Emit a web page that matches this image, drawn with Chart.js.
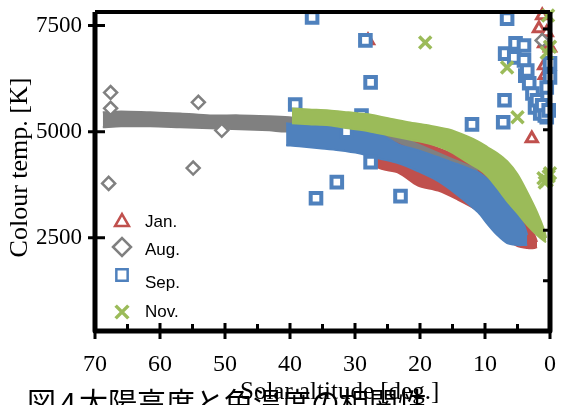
<!DOCTYPE html>
<html>
<head>
<meta charset="utf-8">
<script src="https://cdn.jsdelivr.net/npm/chart.js@4.4.1/dist/chart.umd.min.js"></script>
<style>
body { margin: 0; background: #fff; }
</style>
</head>
<body>
<canvas id="chart" width="562" height="405"></canvas>
<script>
// ---- data: solar altitude [deg] vs colour temperature [K] ----
// dense clouds are kept as upper / lower edge of the band
var janBandAlt  = [34.0, 31.0, 27.9, 26.4, 23.3, 20.3, 17.2, 14.2, 11.1, 9.6, 8.1, 6.6, 5.0, 3.5, 2.4, 2.0];
var janBandHigh = [5124, 5077, 5030, 4983, 4866, 4772, 4607, 4419, 4137, 3925, 3666, 3408, 3078, 2796, 2561, 2396];
var janBandLow  = [4795, 4701, 4442, 4150, 4030, 3730, 3610, 3400, 3140, 2950, 2720, 2460, 2300, 2255, 2255, 2279];

var augBandAlt  = [68.8, 66.0, 61.5, 56.9, 52.3, 47.7, 43.2, 40.1, 38.6, 32.5, 26.4, 20.3, 14.2, 11.1];
var augBandHigh = [5454, 5477, 5454, 5430, 5383, 5383, 5360, 5336, 5313, 5242, 5077, 4701, 4301, 4113];
var augBandLow  = [5101, 5124, 5124, 5101, 5077, 5054, 5030, 5007, 5124, 5077, 4936, 4560, 4184, 3996];

var sepBandAlt  = [40.6, 38.6, 35.5, 32.5, 29.4, 26.4, 23.3, 20.3, 17.2, 14.2, 11.1, 9.6, 8.1, 6.6, 5.0, 4.0, 3.5];
var sepBandHigh = [5195, 5172, 5148, 5101, 5054, 4960, 4701, 4560, 4395, 4231, 4043, 3878, 3690, 3384, 3031, 2796, 2561];
var sepBandLow  = [4678, 4654, 4607, 4560, 4489, 4372, 4254, 4066, 3831, 3502, 3102, 2820, 2561, 2373, 2326, 2326, 2326];

var novBandAlt  = [39.7, 37.1, 34.0, 31.0, 27.9, 24.9, 21.8, 18.8, 15.7, 12.7, 11.1, 9.6, 8.1, 6.6, 5.0, 3.5, 2.0, 0.9, 0.6];
var novBandHigh = [5548, 5524, 5501, 5454, 5407, 5313, 5219, 5148, 5054, 4889, 4772, 4631, 4489, 4301, 3996, 3572, 3102, 2678, 2490];
var novBandLow  = [5195, 5172, 5148, 5077, 5007, 4913, 4819, 4725, 4560, 4278, 4137, 3949, 3666, 3361, 3078, 2796, 2561, 2420, 2396];

// single (scattered) points
var janAlt  = [28.0, 2.8, 1.2, 1.7, 0.5, 0.9, 0.0, 0.9, 0.8];
var janTemp = [7150, 4840, 7735, 7430, 7335, 7080, 6980, 6560, 6330];
var augAlt  = [67.6, 67.6, 54.1, 50.5, 54.9, 67.9, 1.2];
var augTemp = [5920, 5550, 5690, 5030, 4140, 3780, 7150];
var sepAlt  = [36.6, 28.4, 27.6, 39.2, 29.0, 31.3, 27.6, 32.8, 36.0, 23.0, 12.0, 7.2, 7.0, 6.6, 6.9, 5.3, 4.0, 5.5, 4.0, 3.8, 3.2, 2.7, 2.3, 1.5, 0.5, 0.0, 0.0, 0.5, 3.5, 2.0, 1.2, 0.8, 0.2];
var sepTemp = [7690, 7150, 6160, 5640, 5380, 5000, 4280, 3810, 3430, 3480, 5170, 5220, 5740, 7665, 6840, 7080, 7030, 6750, 6680, 6320, 6140, 5900, 5570, 5430, 5340, 6610, 6280, 6040, 6440, 5740, 5620, 5380, 5500];
var novAlt  = [19.2, 6.6, 5.0, 0.3, 0.0, 0.5, 0.5, 0.2, 0.0, 0.8, 1.0];
var novTemp = [7100, 6510, 5340, 7735, 7000, 6860, 3850, 3950, 4020, 3800, 3900];

var xTicks = [0, 10, 20, 30, 40, 50, 60, 70];
var xMinor = [5, 15, 25, 35, 45, 55, 65];
var yTicks = [2500, 5000, 7500];
var rightTicks = [0.5, 1, 2, 3];

var C_JAN = '#c0504d', C_AUG = '#808080', C_SEP = '#4f81bd', C_NOV = '#9bbb59';

function pts(xs, ys) {
    return xs.map(function (x, i) { return { x: x, y: ys[i] }; });
}

function band(alts, hi, lo, color, order) {
    return [
        { type: 'line', data: pts(alts, hi), borderColor: color, borderWidth: 2, pointRadius: 0, fill: false, tension: 0.3, order: order },
        { type: 'line', data: pts(alts, lo), borderColor: color, borderWidth: 2, backgroundColor: color, pointRadius: 0, fill: '-1', tension: 0.3, order: order }
    ];
}

function dots(xs, ys, color, style, r, bw, order) {
    return {
        type: 'scatter', data: pts(xs, ys), pointStyle: style, pointRadius: r, pointBorderWidth: bw,
        pointBorderColor: color, pointBackgroundColor: style === 'crossRot' ? color : '#ffffff',
        clip: false, order: order
    };
}

var datasets = [].concat(
    band(janBandAlt, janBandHigh, janBandLow, C_JAN, 8),
    [dots(janAlt, janTemp, C_JAN, 'triangle', 6.5, 3, 7)],
    band(augBandAlt, augBandHigh, augBandLow, C_AUG, 6),
    [dots(augAlt, augTemp, C_AUG, 'rectRot', 6.5, 2.5, 5)],
    band(sepBandAlt, sepBandHigh, sepBandLow, C_SEP, 4),
    [dots(sepAlt, sepTemp, C_SEP, 'rect', 7.5, 4, 3)],
    band(novBandAlt, novBandHigh, novBandLow, C_NOV, 2),
    [dots(novAlt, novTemp, C_NOV, 'crossRot', 8.5, 3.5, 1)]
);

// axis box, inward/crossing ticks, titles, legend, caption
var decor = {
    id: 'decor',
    afterDatasetsDraw: function (chart) {
        var c = chart.ctx, a = chart.chartArea;
        var xs = chart.scales.x, ys = chart.scales.y, y2 = chart.scales.y2;
        c.save();
        c.strokeStyle = '#000';
        c.lineWidth = 3;
        c.beginPath();
        yTicks.forEach(function (v) {
            var p = ys.getPixelForValue(v);
            c.moveTo(a.left - 7, p); c.lineTo(a.left + 10, p);
        });
        xTicks.forEach(function (v) {
            var p = xs.getPixelForValue(v);
            c.moveTo(p, a.bottom - 8); c.lineTo(p, a.bottom + 8);
        });
        xMinor.forEach(function (v) {
            var p = xs.getPixelForValue(v);
            c.moveTo(p, a.bottom - 7); c.lineTo(p, a.bottom);
        });
        rightTicks.forEach(function (v) {
            var p = y2.getPixelForValue(v);
            c.moveTo(a.right - 7, p); c.lineTo(a.right, p);
        });
        c.stroke();
        c.lineJoin = 'round';
        c.lineWidth = 5;
        c.beginPath();
        c.moveTo(a.left, a.top); c.lineTo(a.left, a.bottom); c.lineTo(a.right, a.bottom); c.lineTo(a.right, a.top);
        c.stroke();
        c.lineWidth = 4;
        c.beginPath();
        c.moveTo(a.left, a.top); c.lineTo(a.right, a.top);
        c.stroke();
        c.restore();
    },
    afterDraw: function (chart) {
        var c = chart.ctx;
        c.save();
        c.fillStyle = '#000';
        // caption (cut by bottom edge)
        c.font = '29px "Noto Sans CJK JP"';
        c.textAlign = 'left';
        c.textBaseline = 'alphabetic';
        c.fillText('図', 27, 414);
        c.fillText('4.', 60, 414);
        c.fillText('太陽高度と色温度の相関性', 79, 414);
        // axis titles
        c.font = '25px "Liberation Serif"';
        c.fillText('Solar altitude [deg.]', 240, 399);
        c.translate(27, 167.5);
        c.rotate(-Math.PI / 2);
        c.font = '26px "Liberation Serif"';
        c.textAlign = 'center';
        c.fillText('Colour temp. [K]', 0, 0);
        c.restore();

        // legend
        var items = [
            { t: 'Jan.', s: 'triangle', col: C_JAN, my: 222, ty: 222, r: 8, bw: 2.5 },
            { t: 'Aug.', s: 'rectRot', col: C_AUG, my: 247, ty: 250, r: 9, bw: 2.5 },
            { t: 'Sep.', s: 'rect', col: C_SEP, my: 275, ty: 283, r: 8, bw: 2.5 },
            { t: 'Nov.', s: 'crossRot', col: C_NOV, my: 312, ty: 312, r: 9, bw: 3.5 }
        ];
        c.save();
        items.forEach(function (it) {
            c.strokeStyle = it.col;
            c.fillStyle = '#ffffff';
            c.lineWidth = it.bw;
            Chart.helpers.drawPoint(c, { pointStyle: it.s, radius: it.r, rotation: 0, borderWidth: it.bw }, 122, it.my);
            c.fillStyle = '#000';
            c.font = '17px "Liberation Sans"';
            c.textAlign = 'left';
            c.textBaseline = 'middle';
            c.fillText(it.t, 145, it.ty);
        });
        c.restore();
    }
};

var ctx = document.getElementById('chart');
var chart = new Chart(ctx, {
    type: 'scatter',
    data: { datasets: datasets },
    options: {
        responsive: false,
        devicePixelRatio: 1,
        animation: false,
        events: [],
        layout: { padding: { top: 11.5, right: 8.5, left: 0, bottom: 0 } },
        plugins: { legend: { display: false }, tooltip: { enabled: false } },
        scales: {
            x: {
                type: 'linear', reverse: true, min: 0, max: 70,
                afterBuildTicks: function (s) { s.ticks = xTicks.map(function (v) { return { value: v }; }); },
                ticks: { font: { family: 'Liberation Serif', size: 24 }, color: '#000', padding: 19, maxRotation: 0,
                    callback: function (v) { return String(v); } },
                grid: { display: false, drawTicks: false },
                border: { display: false },
                afterFit: function (s) { s.height = 74; s.paddingLeft = 0; s.paddingRight = 0; }
            },
            y: {
                type: 'linear', min: 300, max: 7820,
                afterBuildTicks: function (s) { s.ticks = yTicks.map(function (v) { return { value: v }; }); },
                ticks: { font: { family: 'Liberation Serif', size: 23 }, color: '#000', padding: 13,
                    callback: function (v) { return String(v); } },
                grid: { display: false, drawTicks: false },
                border: { display: false },
                afterFit: function (s) { s.width = 95; s.paddingTop = 0; s.paddingBottom = 0; }
            },
            y2: { type: 'linear', display: false, position: 'right', min: 0, max: 3.17 }
        }
    },
    plugins: [decor]
});
</script>
</body>
</html>
